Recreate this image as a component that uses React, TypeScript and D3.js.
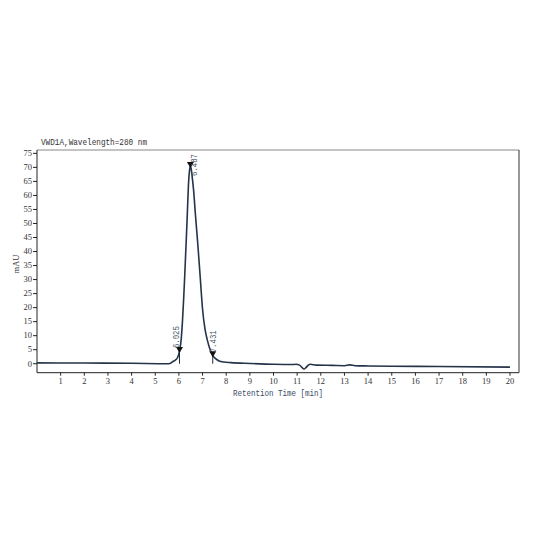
import React from "react";
import * as d3 from "d3";

const times = [0, 2, 4, 5.5, 5.65, 5.75, 5.85, 5.95, 6.025, 6.1, 6.15, 6.2, 6.25, 6.3, 6.35, 6.4, 6.45, 6.487, 6.52, 6.57, 6.62, 6.7, 6.8, 6.9, 7.0, 7.1, 7.2, 7.3, 7.431, 7.55, 7.7, 7.9, 8.2, 9, 10, 10.8, 10.95, 11.1, 11.2, 11.29, 11.38, 11.47, 11.56, 11.8, 12.5, 13, 13.23, 13.45, 14, 15, 17, 20];
const signal = [0.3, 0.25, 0.15, 0.0, 0.2, 0.8, 1.3, 2.3, 4.5, 9, 15, 23, 32, 42, 52, 63, 69, 70.5, 69.5, 66, 62, 53, 42.5, 31, 19.5, 12.5, 8.5, 5.5, 3.0, 1.8, 1.0, 0.6, 0.4, 0.1, -0.2, -0.3, -0.2, -0.5, -1.3, -1.9, -1.3, -0.5, -0.2, -0.5, -0.6, -0.7, -0.4, -0.7, -0.8, -0.9, -1.0, -1.2];

const peakTimes = [6.025, 6.487, 7.431];
const peakHeights = [4.5, 70.5, 3.0];
const peakLabels = ["6.025", "6.487", "7.431"];
const peakDrop = [true, false, true];

const xTicks = d3.range(1, 21);
const yTicks = d3.range(0, 80, 5);

const title = "VWD1A,Wavelength=280 nm";
const xTitle = "Retention Time [min]";
const yTitle = "mAU";

export default function App() {
  const W = 533, H = 533;
  const left = 37, right = 519, top = 150, bottom = 372.7;
  const x = d3.scaleLinear().domain([0, 20]).range([37, 510]);
  const y = d3.scaleLinear().domain([-3.2, 76.3]).range([bottom, 149.7]);
  const data = times.map((t, i) => [t, signal[i]] as [number, number]);
  const line = d3.line<[number, number]>().x(d => x(d[0])).y(d => y(d[1])).curve(d3.curveMonotoneX);
  const font = "'Liberation Mono', 'DejaVu Sans Mono', monospace";
  const serif = "'Liberation Serif', 'DejaVu Serif', serif";
  const txt = "#333";
  const labelDx = [-0.5, 7, 3.5];
  return (
    <svg width={W} height={H} style={{ position: "absolute", left: 0, top: 0, background: "#fff" }}>
      <text x={41} y={145} fontFamily={font} fontSize={9} fill={txt} textLength={106} lengthAdjust="spacingAndGlyphs">{title}</text>
      <line x1={left} x2={right} y1={top} y2={top} stroke="#888" strokeWidth={1} />
      <line x1={right} x2={right} y1={top} y2={bottom} stroke="#333" strokeWidth={1} />
      <line x1={left} x2={left} y1={top} y2={bottom} stroke="#222" strokeWidth={1} />
      <line x1={left} x2={right} y1={bottom} y2={bottom} stroke="#222" strokeWidth={1} />
      {yTicks.map(v => (
        <g key={"y" + v}>
          <line x1={left - 4} x2={left} y1={y(v)} y2={y(v)} stroke="#222" />
          <text x={left - 5} y={y(v) + 2.8} fontFamily={serif} fontSize={8.5} fill={txt} textAnchor="end">{v}</text>
        </g>
      ))}
      {xTicks.map(v => (
        <g key={"x" + v}>
          <line x1={x(v)} x2={x(v)} y1={bottom} y2={bottom + 3} stroke="#222" />
          <text x={x(v)} y={bottom + 11.5} fontFamily={serif} fontSize={8.5} fill={txt} textAnchor="middle">{v}</text>
        </g>
      ))}
      <text x={278} y={395.5} fontFamily={font} fontSize={9} fill="#3a4a62" textAnchor="middle" textLength={90} lengthAdjust="spacingAndGlyphs">{xTitle}</text>
      <text transform={`translate(18.5,264) rotate(-90)`} fontFamily={serif} fontSize={8.5} fill={txt} textAnchor="middle">{yTitle}</text>
      {peakTimes.map((t, i) => peakDrop[i] ? (
        <line key={"d" + i} x1={x(t)} x2={x(t)} y1={y(peakHeights[i])} y2={y(0)} stroke="#1d2a3a" strokeWidth={1} />
      ) : null)}
      <path d={line(data) || ""} fill="none" stroke="#24344a" strokeWidth={1.6} />
      {peakTimes.map((t, i) => {
        const px = x(t), py = y(peakHeights[i]) + 2;
        const tri = `M${px - 3.5},${py - 6}L${px + 3.5},${py - 6}L${px},${py}Z`;
        const lbY = Math.max(py - 5, top + 26);
        return (
          <g key={"p" + i}>
            <path d={tri} fill="#111" />
            <text transform={`translate(${px + labelDx[i]},${lbY}) rotate(-90)`} fontFamily={font} fontSize={9} fill="#4a5566" textLength={22} lengthAdjust="spacingAndGlyphs">{peakLabels[i]}</text>
          </g>
        );
      })}
    </svg>
  );
}
